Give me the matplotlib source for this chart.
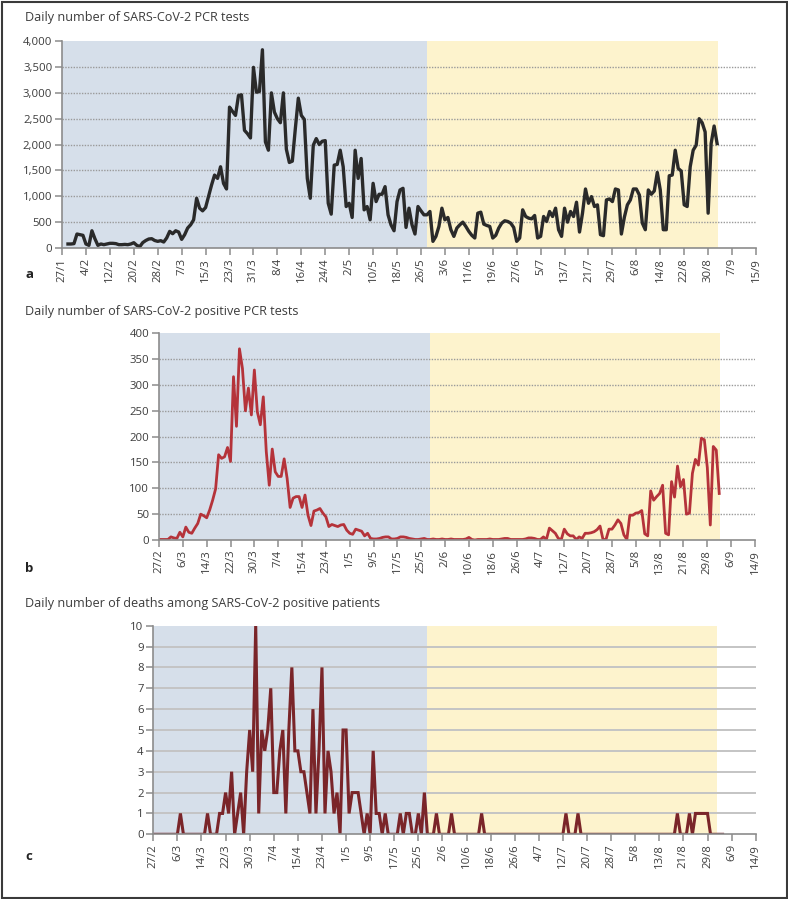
import matplotlib
matplotlib.use('Agg')
import matplotlib.pyplot as plt
import pandas as pd
from matplotlib.patches import Rectangle
from matplotlib.ticker import FuncFormatter

plt.rcParams['font.family'] = ['Open Sans', 'DejaVu Sans']

# ---------------- data ----------------
tests_start = '2020-01-29'
tests = [83, 83, 90, 275, 262, 250, 83, 57, 338, 185,
         57, 83, 70, 83, 96, 96, 90, 70, 70, 75,
         70, 83, 108, 57, 32, 110, 150, 179, 185, 150,
         134, 147, 121, 200, 326, 281, 338, 313, 172, 262,
         390, 453, 549,
         964, 773, 722, 785, 1000, 1220, 1411, 1347, 1571, 1250,
         1143, 2720, 2637, 2561, 2944, 2957, 2273, 2209, 2126, 3487,
         3008, 3020, 3825, 2050, 1890, 2995, 2625, 2497, 2420, 2995,
         1909, 1654, 1679, 2305, 2893, 2561, 2484, 1347, 964, 1986,
         2114, 1999, 2063, 2075, 868, 658, 1603, 1616, 1890, 1571,
         805, 868, 594, 1890, 1347, 1731, 741, 805, 549, 1252,
         900, 1041, 1041, 1188, 645, 450, 338, 900, 1124, 1156,
         402, 773, 453, 275, 805, 722, 645, 645, 709, 134,
         230, 421, 773, 549, 594, 358, 230, 390, 453, 504,
         421, 326, 250, 198, 677, 696, 466, 440, 421, 198,
         250, 390, 485, 530, 517, 485, 402, 134, 198, 741,
         613, 581, 568, 632, 198, 230, 613, 517, 709, 613,
         773, 358, 230, 773, 504, 709, 613, 888, 313, 677,
         1143, 868, 996, 805, 837, 262, 243, 932, 951, 900,
         1143, 1124, 275, 600, 837, 932, 1143, 1143, 1028, 485,
         358, 1124, 1041, 1105, 1462, 1124, 358, 358, 1398, 1411,
         1890, 1539, 1488, 837, 805, 1571, 1890, 1986, 2497, 2420,
         2241, 677, 2018, 2356, 2018]

positives_start = '2020-02-27'
positives = [1, 1, 1, 1, 6, 4, 3, 15, 6, 25,
             15, 13, 23, 32, 50, 47, 43, 58, 77, 99,
             165, 158, 161, 179, 152, 316, 220, 370, 332, 250,
             294, 242, 329, 248, 223, 277, 171, 106, 176, 132,
             123, 123, 157, 119, 63, 81, 84, 84, 63, 87,
             48, 28, 56, 58, 61, 52, 45, 26, 30, 28,
             26, 29, 30, 19, 13, 11, 21, 19, 17, 8,
             13, 3, 2, 2, 3, 5, 6, 6, 2, 2,
             3, 6, 6, 5, 3, 2, 1, 1, 2, 3,
             1, 1, 2, 1, 1, 2, 1, 1, 2, 1,
             1, 1, 1, 2, 5, 1, 0, 1, 1, 1,
             1, 2, 1, 1, 1, 2, 3, 3, 1, 1,
             1, 1, 1, 2, 4, 4, 3, 1, 1, 6,
             1, 23, 18, 13, 3, 1, 21, 12, 8, 8,
             1, 6, 3, 13, 13, 14, 16, 20, 27, 1,
             1, 21, 21, 29, 39, 32, 10, 1, 48, 48,
             52, 53, 57, 12, 8, 95, 77, 84, 90, 106,
             13, 10, 113, 83, 143, 103, 117, 50, 52, 129,
             156, 145, 197, 194, 140, 29, 181, 174, 90]

deaths_start = '2020-02-27'
deaths = [0, 0, 0, 0, 0, 0, 0, 0, 0, 1,
          0, 0, 0, 0, 0, 0, 0, 0, 1, 0,
          0, 0, 1, 1, 2, 1, 3, 0, 1, 2,
          0, 3, 5, 3, 10, 1, 5, 4, 5, 7,
          2, 2, 4, 5, 1, 5, 8, 4, 4, 3,
          3, 2, 1, 6, 1, 4, 8, 1, 4, 3,
          1, 2, 0, 5, 5, 1, 2, 2, 2, 1,
          0, 1, 0, 4, 1, 1, 0, 1, 0, 0,
          0, 0, 1, 0, 1, 1, 0, 0, 1, 0,
          2, 0, 0, 0, 1, 0, 0, 0, 0, 1,
          0, 0, 0, 0, 0, 0, 0, 0, 0, 1,
          0, 0, 0, 0, 0, 0, 0, 0, 0, 0,
          0, 0, 0, 0, 0, 0, 0, 0, 0, 0,
          0, 0, 0, 0, 0, 0, 0, 1, 0, 0,
          0, 1, 0, 0, 0, 0, 0, 0, 0, 0,
          0, 0, 0, 0, 0, 0, 0, 0, 0, 0,
          0, 0, 0, 0, 0, 0, 0, 0, 0, 0,
          0, 0, 0, 0, 1, 0, 0, 0, 1, 0,
          1, 1, 1, 1, 1, 0, 0, 0, 0, 0]

titles = ['Daily number of SARS-CoV-2 PCR tests',
          'Daily number of SARS-CoV-2 positive PCR tests',
          'Daily number of deaths among SARS-CoV-2 positive patients']
panel_letters = ['a', 'b', 'c']

axis_ranges = [('2020-01-27', '2020-09-15'),
               ('2020-02-27', '2020-09-14'),
               ('2020-02-27', '2020-09-14')]
phase_split = '2020-05-28'
phase_ends = ['2020-09-02 06:00', '2020-09-02 07:00', '2020-09-01']

y_ticks = [list(range(0, 4001, 500)), list(range(0, 401, 50)), list(range(0, 11, 1))]

# ---------------- style ----------------
W, H = 788, 899
fig = plt.figure(figsize=(W / 100, H / 100), dpi=100)

BLUE_BG = '#d6dfea'
YELLOW_BG = '#fdf3cd'
SPINE = '#8c8c8c'
TXT = '#3c3c3c'
line_colors = ['#2a2a2a', '#b5333a', '#7a2529']
line_widths = [2.4, 2.0, 2.2]

# axes rects in pixels: left, top, right, bottom
rects = [(62, 40.7, 756, 248.3),
         (159, 333.3, 755, 540.0),
         (153.3, 625.7, 755.7, 834.3)]

series = [(tests_start, tests), (positives_start, positives), (deaths_start, deaths)]
title_y = [18, 312, 604]
letter_y = [275, 568, 857]

for i in range(3):
    l, t, r, b = rects[i]
    ax = fig.add_axes([l / W, 1 - b / H, (r - l) / W, (b - t) / H])
    x0, x1 = pd.Timestamp(axis_ranges[i][0]), pd.Timestamp(axis_ranges[i][1])
    ax.set_xlim(x0, x1)
    yt = y_ticks[i]
    ax.set_ylim(yt[0], yt[-1])
    ax.set_facecolor('white')

    ax.axvspan(x0, pd.Timestamp(phase_split), color=BLUE_BG, lw=0, zorder=0)
    ax.axvspan(pd.Timestamp(phase_split), pd.Timestamp(phase_ends[i]), color=YELLOW_BG, lw=0, zorder=0)

    for v in yt[1:-1]:
        if i < 2:
            ax.axhline(v, color='#9a9a9a', lw=1.0, ls=(0, (1, 1)), zorder=1)
        else:
            ax.axhline(v, color='#c4c4c4', lw=1.4, zorder=1)

    start, vals = series[i]
    dates = pd.date_range(start, periods=len(vals), freq='D')
    ax.plot(dates, vals, color=line_colors[i], lw=line_widths[i], zorder=3,
            solid_joinstyle='miter' if i == 2 else 'round')

    for s in ['top', 'right']:
        ax.spines[s].set_visible(False)
    for s in ['left', 'bottom']:
        ax.spines[s].set_color(SPINE)
        ax.spines[s].set_linewidth(1.2)
        ax.spines[s].set_zorder(4)

    xt = pd.date_range(x0, x1, freq='8D')
    ax.set_xticks(xt)
    ax.set_xticklabels([f'{d.day}/{d.month}' for d in xt], rotation=90)
    ax.set_yticks(yt)
    if i == 0:
        ax.yaxis.set_major_formatter(FuncFormatter(lambda v, p: f'{int(v):,}'))
    ax.tick_params(axis='both', direction='out', length=5, width=1.1, color=SPINE,
                   labelcolor=TXT, labelsize=8.2, pad=2)

    fig.text(25 / W, 1 - title_y[i] / H, titles[i], fontsize=9.1, color=TXT,
             ha='left', va='center')
    fig.text(25 / W, 1 - letter_y[i] / H, panel_letters[i], fontsize=9.5,
             fontweight='bold', color='#222222', ha='left', va='center')

fig.patches.append(Rectangle((1.5 / W, 1.5 / H), (W - 3) / W, (H - 3) / H,
                             transform=fig.transFigure, fill=False,
                             edgecolor='#3a3a3a', lw=1.5, zorder=10))

fig.savefig('out.png', dpi=100)
